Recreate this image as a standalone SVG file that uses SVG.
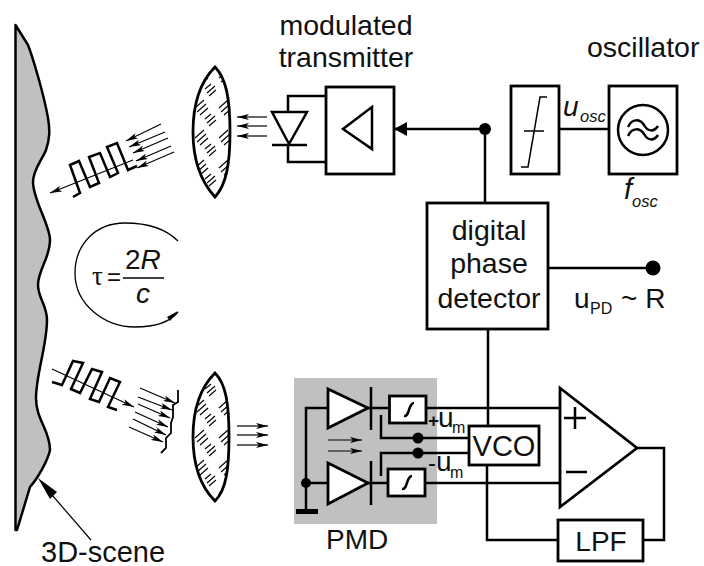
<svg xmlns="http://www.w3.org/2000/svg" width="704" height="566" viewBox="0 0 704 566">
<style>
text{font-family:"Liberation Sans",Arial,sans-serif;fill:#111}
.t{font-size:28.5px}
.m{text-anchor:middle}
.i{font-style:italic}
.s{font-size:16px}
.w{fill:none;stroke:#000;stroke-width:2.5;stroke-linejoin:miter}
.b{fill:#fff;stroke:#000;stroke-width:2.8}
.n{fill:none;stroke:#000;stroke-width:1.2;marker-end:url(#a)}
.f{fill:#000;stroke:none}
.lens{fill:url(#hatch);stroke:#000;stroke-width:2.8}
</style>
<defs>
<pattern id="hatch" width="24" height="30" patternUnits="userSpaceOnUse" x="193" y="67">
<rect width="24" height="30" fill="#fff"/>
<path d="M2 11l9-8M4 15l9-8M7 18l8-7M14 26l8-7M16 29l7-6M12 22l6-5" stroke="#000" stroke-width="1.100" fill="none"/>
</pattern>
<marker id="a" viewBox="0 0 12 6" refX="12" refY="3" markerWidth="12" markerHeight="6" markerUnits="userSpaceOnUse" orient="auto"><path d="M0 0L12 3L0 6L3 3Z" fill="#000"/></marker>
</defs>
<g id="scene">
<path d="M15.500 530V25L28 45C33 58 44 95 48 118C50 130 50 138 46 150C42 160 33 170 33 182C33 200 50 225 50 240C50 258 38 270 38 285C38 298 47 305 47 320C47 345 36 375 36 398C36 420 50 430 50 450C48 460 38 478 30 487L17 530Z" fill="#c0c0c0" stroke="#000" stroke-width="2.500" stroke-linejoin="round"/>
<text x="41" y="562" font-size="29">3D-scene</text>
<path d="M91 540L46 488" fill="none" stroke="#000" stroke-width="1.200"/>
<path d="M38 478L57 492L50 499Z" class="f"/>
</g>
<g id="lens-top"><path d="M215 67C204 78 193 98 193 132C193 165 204 185 215 197C226 185 230 165 230 132C230 98 226 78 215 67Z" class="lens"/></g>
<g id="lens-bottom"><path d="M215 373C204 384 193 404 193 437C193 470 204 490 215 501C226 490 229 470 229 437C229 404 226 384 215 373Z" class="lens"/></g>
<g id="pulse-out">
<path d="M73 197L80 193L70 165L79 161L90 187L99 183L89 157L100 153L110 177L118 173L107 147L117 143L128 170L137 166" class="w"/>
<path d="M133 160L50 193" class="n"/>
<path d="M161 124L126 141" class="n"/>
<path d="M165 132L129 147" class="n"/>
<path d="M168 138L133 153" class="n"/>
<path d="M171 146L136 161" class="n"/>
<path d="M174 152L137 168" class="n"/>
</g>
<g id="pulse-back">
<path d="M52 382L62 385L73 361L83 363L71 389L80 393L92 369L102 372L90 399L99 402L110 378L120 382L108 407L117 410" class="w"/>
<path d="M52 369L134 407" class="n"/>
<path d="M140 388L175 403" class="n"/>
<path d="M138 397L172 410" class="n"/>
<path d="M138 404L170 418" class="n"/>
<path d="M135 412L168 427" class="n"/>
<path d="M133 419L166 435" class="n"/>
<path d="M129 427L163 442" class="n"/>
<path d="M178 390V402L173 405V417L171 423V433L166 438V448L161 453" fill="none" stroke="#000" stroke-width="1.800"/>
</g>
<g id="lens-arrows">
<path d="M267 117H237" class="n"/>
<path d="M267 126H237" class="n"/>
<path d="M267 136H237" class="n"/>
<path d="M237 426H268" class="n"/>
<path d="M237 435H268" class="n"/>
<path d="M237 445H268" class="n"/>
</g>
<g id="delay">
<path d="M178 241C165 228 145 223 125 223C95 223 75 245 75 273C75 305 105 327 135 327C155 327 170 322 178 312" fill="none" stroke="#000" stroke-width="1.300"/>
<path d="M178 311L167 317L170 321Z" class="f"/>
<text x="92" y="285" font-size="27" style="font-family:'Liberation Serif',serif">τ</text>
<text x="107" y="285" font-size="24">=</text>
<text x="125" y="269" font-size="28">2<tspan class="i">R</tspan></text>
<path d="M123 278H164" fill="none" stroke="#000" stroke-width="1.300"/>
<text x="136" y="303" font-size="28" class="i">c</text>
</g>
<g id="connectors">
<path d="M394 129H486M485 129V203M559 129H609M488 329V426M548 268H653M487 465V540H558M643 540H664V448H637" class="w"/>
<path d="M288 112V96H326M288 145V162H326" class="w"/>
<path d="M394 129L407 122V136Z" class="f"/>
<circle cx="485" cy="129" r="6" class="f"/>
<circle cx="653" cy="268" r="7.500" class="f"/>
</g>
<g id="transmitter">
<rect x="326" y="87" width="68" height="87" class="b"/>
<path d="M372 107V149L343 129Z" class="w"/>
<path d="M272 112H307L289 144Z" class="w"/>
<path d="M272 145H307" class="w"/>
<text x="346" y="35" class="t m">modulated</text>
<text x="346" y="67" class="t m">transmitter</text>
</g>
<g id="limiter">
<rect x="511" y="86" width="48" height="88" class="b"/>
<path d="M547 97H540L528 167H521M524 131H544" fill="none" stroke="#000" stroke-width="1.500"/>
</g>
<g id="oscillator">
<rect x="609" y="86" width="68" height="88" class="b"/>
<circle cx="643" cy="130" r="25" class="w"/>
<path d="M628 127C632 118 640 119 644 125C648 132 654 132 658 126M628 136C632 127 640 128 644 134C648 141 654 141 658 135" class="w" stroke-width="2"/>
<text x="587" y="57" class="t">oscillator</text>
<text x="563" y="116" font-size="28" class="i">u</text>
<text x="580" y="122" font-size="16.500" class="i">osc</text>
<text x="624" y="199" font-size="29" class="i">f</text>
<text x="632" y="207" font-size="16.500" class="i">osc</text>
</g>
<g id="detector">
<rect x="427" y="203" width="121" height="126" class="b"/>
<text x="489" y="240" class="t m">digital</text>
<text x="489" y="273" class="t m">phase</text>
<text x="489" y="308" class="t m">detector</text>
<text x="574" y="308" font-size="28">u</text>
<text x="590" y="314" class="s">PD</text>
<text x="621" y="308" font-size="28">~ R</text>
</g>
<g id="pmd">
<rect x="294" y="378" width="143" height="146" fill="#c0c0c0"/>
<path d="M328 408H306V511M306 483H328M368 408H389M368 483H388M426 408H560M425 483H560M381 415V438H469M381 476V453H469M371 387V430M371 461V505" class="w"/>
<path d="M296 511.500H318" stroke="#000" stroke-width="5" fill="none"/>
<path d="M328 389V428L368 408ZM328 463V504L368 483Z" class="b"/>
<circle cx="306" cy="483" r="5" class="f"/>
<circle cx="418" cy="438" r="5.500" class="f"/>
<circle cx="418" cy="453" r="5.500" class="f"/>
<path d="M328 440H362" class="n"/>
<path d="M328 451H362" class="n"/>
<rect x="389.500" y="396" width="36.500" height="27" class="b"/>
<rect x="388" y="469" width="37" height="27" class="b"/>
<path d="M404 416C410 417 408 403 414 403M402 489C408 490 406 476 412 476" fill="none" stroke="#000" stroke-width="2.600"/>
<text x="326" y="549" font-size="28">PMD</text>
<text x="428" y="427" font-size="19" font-weight="bold">+</text>
<text x="438" y="427" font-size="28">u</text>
<text x="452" y="433" class="s">m</text>
<text x="428" y="471" font-size="24">-</text>
<text x="436" y="471" font-size="28">u</text>
<text x="450" y="478" class="s">m</text>
</g>
<g id="vco">
<rect x="469" y="426" width="70" height="39" class="b"/>
<text x="504" y="456" font-size="29" class="m">VCO</text>
</g>
<g id="comparator">
<path d="M560 388V507L637 448Z" class="b"/>
<path d="M564 418H586M575 407V429M566 472H587" class="w"/>
</g>
<g id="lpf">
<rect x="558" y="520" width="85" height="41" class="b"/>
<text x="601" y="551" font-size="28" class="m">LPF</text>
</g>
</svg>
